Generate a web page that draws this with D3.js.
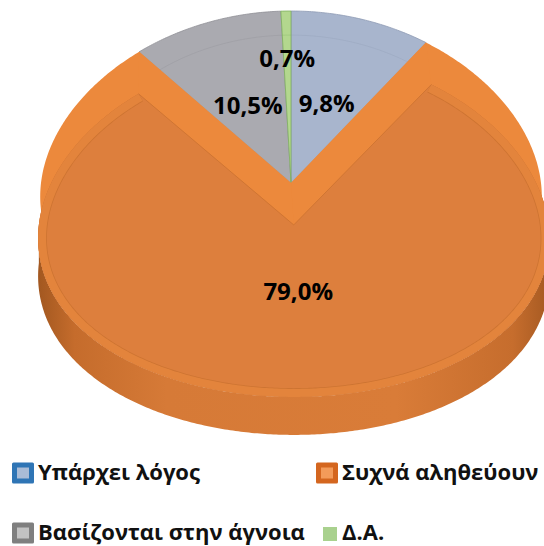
<!DOCTYPE html>
<html>
<head>
<meta charset="utf-8">
<script src="https://cdn.jsdelivr.net/npm/d3@7"></script>
<style>
  html, body { margin: 0; padding: 0; background: #fff; }
  svg { display: block; }
</style>
</head>
<body>
<script>
// ---- data ----
const categories = ["Υπάρχει λόγος", "Συχνά αληθεύουν", "Βασίζονται στην άγνοια", "Δ.Α."];
const values = [9.8, 79.0, 10.5, 0.7];
const valueLabels = ["9,8%", "79,0%", "10,5%", "0,7%"];
const explode = [0, 0.244, 0, 0];

// ---- styling ----
const faceColors = ["#a8b5cd", "#dd7f3d", "#aaaab0", "#b3d78e"];
const bandColors = ["#9eacc6", "#ec893c", "#a0a0a8", "#9fcb7a"];
const bevelColors = ["#a0aec8", "#e3843c", "#a3a3aa", "#a6cf82"];
const edgeColors = ["#8e9bb4", "#cd7432", "#8f8f96", "#7fb060"];
const legendOuter = ["#2f75b5", "#d4661f", "#7f7f7f", "#a9d18e"];
const legendInner = ["#aabcd6", "#f39b5a", "#c2c2c2", "#a9d18e"];
const labelRadius = [0.49, 0.38, 0.49, 0.73];

const W = 544, H = 546;
const cx = 291, cy = 183, rx = 250, ry = 172, depth = 38, persp = 0.08, bevel = 8;

const svg = d3.select("body").append("svg").attr("width", W).attr("height", H);
const defs = svg.append("defs");

// projection of a point on the pie disc (X right, Y towards the back, unit radius)
function P(X, Y, z = 0) {
  const s = 1 - persp * Y;
  return [cx + rx * X * s, cy - ry * Y + z];
}
function onDisc(angle, r, off, z = 0) {
  return P(off[0] + r * Math.sin(angle), off[1] + r * Math.cos(angle), z);
}
function arcPts(a0, a1, r, off, z = 0) {
  const n = Math.max(4, Math.ceil(Math.abs(a1 - a0) / 0.01));
  return d3.range(n + 1).map(i => onDisc(a0 + (a1 - a0) * i / n, r, off, z));
}
const line = d3.line();
const closed = pts => line(pts) + "Z";

const pie = d3.pie().sort(null).startAngle(0).endAngle(2 * Math.PI);
const arcs = pie(values).map((d, i) => {
  const mid = (d.startAngle + d.endAngle) / 2;
  const e = explode[i];
  return { ...d, i, mid, off: [e * Math.sin(mid), e * Math.cos(mid)] };
});

const back = arcs.filter(d => explode[d.i] === 0);
const front = arcs.filter(d => explode[d.i] > 0);

// ---- slices that stay in place ----
const gBack = svg.append("g");
back.forEach(d => {
  const top = [P(d.off[0], d.off[1])].concat(arcPts(d.startAngle, d.endAngle, 1, d.off));
  gBack.append("path").attr("d", closed(top))
    .attr("fill", faceColors[d.i]).attr("stroke", edgeColors[d.i]).attr("stroke-width", 0.8);
  // faint bevel line on the top face
  gBack.append("path").attr("d", line(arcPts(d.startAngle, d.endAngle, 0.86, d.off)))
    .attr("fill", "none").attr("stroke", edgeColors[d.i]).attr("stroke-opacity", 0.3).attr("stroke-width", 1);
});

// ---- exploded slice ----
const gFront = svg.append("g");
front.forEach(d => {
  const o = d.off, z0 = [0, 0];
  // trail between resting and exploded position
  const rest = [P(0, 0)].concat(arcPts(d.startAngle, d.endAngle, 1, z0));
  gFront.append("path").attr("d", closed(rest)).attr("fill", bandColors[d.i]);
  [d.startAngle, d.endAngle].forEach(a => {
    const q = [P(0, 0), onDisc(a, 1, z0), onDisc(a, 1, o), P(o[0], o[1])];
    gFront.append("path").attr("d", closed(q)).attr("fill", bandColors[d.i]);
  });

  // outer side wall (front facing part)
  const s0 = Math.max(d.startAngle, Math.PI / 2), s1 = Math.min(d.endAngle, 3 * Math.PI / 2);
  const gradId = "side" + d.i;
  const grad = defs.append("linearGradient").attr("id", gradId)
    .attr("gradientUnits", "userSpaceOnUse")
    .attr("x1", onDisc(3 * Math.PI / 2, 1, o)[0]).attr("x2", onDisc(Math.PI / 2, 1, o)[0])
    .attr("y1", 0).attr("y2", 0);
  [[0, "#a35820"], [0.07, "#c56c2c"], [0.25, "#d67a37"], [0.7, "#d97c38"], [0.93, "#c66d2d"], [1, "#a65a22"]]
    .forEach(([t, c]) => grad.append("stop").attr("offset", t).attr("stop-color", c));
  const wall = arcPts(s0, s1, 1, o).concat(arcPts(s1, s0, 1, o, depth));
  gFront.append("path").attr("d", closed(wall)).attr("fill", `url(#${gradId})`);

  // top face
  const facePts = [P(o[0], o[1])].concat(arcPts(d.startAngle, d.endAngle, 1, o));
  const clipId = "face" + d.i;
  defs.append("clipPath").attr("id", clipId).append("path").attr("d", closed(facePts));
  gFront.append("path").attr("d", closed(facePts)).attr("fill", faceColors[d.i]);
  const rim = line(arcPts(d.startAngle, d.endAngle, 1, o));
  const gClip = gFront.append("g").attr("clip-path", `url(#${clipId})`);
  gClip.append("path").attr("d", rim).attr("fill", "none")
    .attr("stroke", edgeColors[d.i]).attr("stroke-width", 2 * bevel + 1.6);
  gClip.append("path").attr("d", rim).attr("fill", "none")
    .attr("stroke", bevelColors[d.i]).attr("stroke-width", 2 * bevel);
  // radial edges of the face
  gFront.append("path")
    .attr("d", line([onDisc(d.startAngle, 1, o), P(o[0], o[1]), onDisc(d.endAngle, 1, o)]))
    .attr("fill", "none").attr("stroke", edgeColors[d.i]).attr("stroke-width", 0.9);
});

// ---- value labels ----
const gLab = svg.append("g")
  .attr("font-family", "'Open Sans', 'Noto Sans', sans-serif")
  .attr("font-weight", 700).attr("font-size", 24).attr("fill", "#000");
arcs.forEach(d => {
  const [x, y] = onDisc(d.mid, labelRadius[d.i], d.off);
  gLab.append("text").attr("x", x).attr("y", y)
    .attr("text-anchor", "middle").attr("dominant-baseline", "central")
    .text(valueLabels[d.i]);
});

// ---- legend ----
const legendPos = [[12, 473], [316, 473], [12, 533], [316, 533]];
const gLeg = svg.append("g")
  .attr("font-family", "'Open Sans', 'Noto Sans', sans-serif")
  .attr("font-weight", 700).attr("font-size", 22).attr("fill", "#111");
categories.forEach((c, i) => {
  const [x, y] = legendPos[i];
  const g = gLeg.append("g").attr("transform", `translate(${x},${y})`);
  if (i === 3) {
    g.append("rect").attr("x", 7).attr("y", -6).attr("width", 14).attr("height", 14).attr("fill", legendOuter[i]);
  } else {
    g.append("rect").attr("x", 0).attr("y", -10.5).attr("width", 22).attr("height", 21).attr("rx", 1.5)
      .attr("fill", legendOuter[i]);
    g.append("rect").attr("x", 5).attr("y", -5.5).attr("width", 12).attr("height", 11)
      .attr("fill", legendInner[i]);
  }
  g.append("text").attr("x", 26).attr("y", 7).text(c);
});
</script>
</body>
</html>
